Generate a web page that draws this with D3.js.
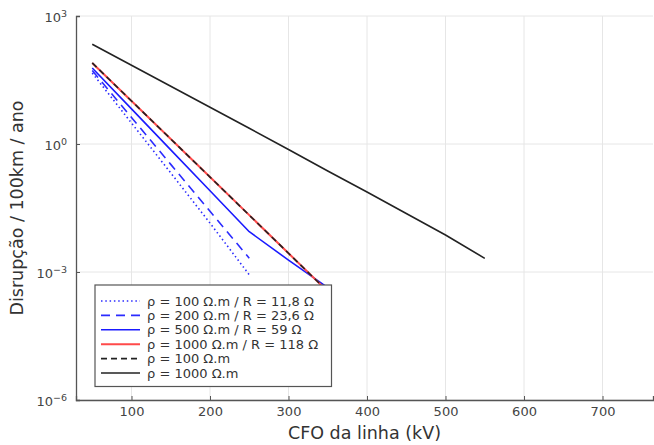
<!DOCTYPE html>
<html><head><meta charset="utf-8">
<script src="https://cdn.jsdelivr.net/npm/d3@7"></script>
<style>body{margin:0;background:#fff}svg{display:block;font-family:"DejaVu Sans",sans-serif}</style>
</head><body><svg id="c" width="654" height="445"></svg>
<script>
const cfo350 = [50,100,150,200,250,300,350];
const cfo250 = [50,100,150,200,250];
const cfo550 = [50,100,150,200,250,300,350,400,450,500,550];
const rho100R = [46, 3.1, 0.21, 0.0140, 8.6e-4];
const rho200R = [52.8, 4.19, 0.333, 0.0264, 0.0021];
const rho500R = [60.4, 6.64, 0.73, 0.080, 0.0088, 0.0019, 4.3e-4];
const rho1000R = [79.4, 10.2, 1.31, 0.168, 0.0215, 0.00275, 3.5e-4];
const rho100 = [79.4, 10.2, 1.31, 0.168, 0.0215, 0.00275, 3.5e-4];
const rho1000 = [217, 70, 22.5, 7.26, 2.34, 0.745, 0.233, 0.075, 0.0235, 0.00736, 0.00209];
const seriesNames = ["ρ = 100 Ω.m / R = 11,8 Ω","ρ = 200 Ω.m / R = 23,6 Ω","ρ = 500 Ω.m / R = 59 Ω","ρ = 1000 Ω.m / R = 118 Ω","ρ = 100 Ω.m","ρ = 1000 Ω.m"];
const xTicks = [100,200,300,400,500,600,700];
const yTickExp = [3,0,-3,-6];

const series = [
  {name:seriesNames[0], x:cfo250, y:rho100R, color:"#2b2bff", w:1.6, dash:"1.5,2.8"},
  {name:seriesNames[1], x:cfo250, y:rho200R, color:"#2b2bff", w:1.6, dash:"9,6"},
  {name:seriesNames[2], x:cfo350, y:rho500R, color:"#1a1aff", w:1.6, dash:null},
  {name:seriesNames[3], x:cfo350, y:rho1000R, color:"#ff4a4a", w:2, dash:null},
  {name:seriesNames[4], x:cfo350, y:rho100, color:"#222", w:1.6, dash:"6,4"},
  {name:seriesNames[5], x:cfo550, y:rho1000, color:"#222", w:1.6, dash:null}
];

const svg = d3.select("#c");
const L=76, R=653, T=16, B=400;
const x = d3.scaleLinear().domain([29.3, 764.3]).range([L,R]);
const y = d3.scaleLog().domain([1e-6,1e3]).range([B,T]);

// grid
const g = svg.append("g");
g.selectAll(".vg").data(xTicks).join("line")
  .attr("x1",d=>x(d)).attr("x2",d=>x(d)).attr("y1",T).attr("y2",B)
  .attr("stroke","#e6e6e6").attr("stroke-width",1);
g.selectAll(".hg").data(yTickExp).join("line")
  .attr("x1",L).attr("x2",R).attr("y1",d=>y(Math.pow(10,d))).attr("y2",d=>y(Math.pow(10,d)))
  .attr("stroke","#e6e6e6").attr("stroke-width",1);

// axes
const xa = svg.append("g").attr("transform",`translate(0,${B})`)
  .call(d3.axisBottom(x).tickValues(xTicks).tickSize(-4).tickPadding(7).tickFormat(d3.format("d")));
xa.select(".domain").attr("stroke","#555").attr("stroke-width",1.3);
xa.selectAll(".tick line").attr("stroke","#555");
xa.selectAll(".tick text").attr("fill","#444").attr("font-size",13).attr("font-family","DejaVu Sans");

const ya = svg.append("g").attr("transform",`translate(${L},0)`)
  .call(d3.axisLeft(y).tickValues(yTickExp.map(e=>Math.pow(10,e))).tickSize(-4).tickFormat(""));
ya.select(".domain").attr("stroke","#555").attr("stroke-width",1.3);
ya.selectAll(".tick line").attr("stroke","#555");
ya.selectAll(".tick").each(function(d){
  const e = Math.round(Math.log10(d));
  const t = d3.select(this).append("text").attr("x",-9).attr("dy","0.4em")
    .attr("text-anchor","end").attr("fill","#444").attr("font-size",13).attr("font-family","DejaVu Sans");
  t.append("tspan").text("10");
  t.append("tspan").attr("dy","-0.5em").attr("font-size",9.5).text(e<0?"−"+(-e):String(e));
});

// lines
const line = d3.line().x(d=>x(d[0])).y(d=>y(d[1]));
series.forEach(s=>{
  svg.append("path").datum(s.x.map((v,i)=>[v,s.y[i]]))
    .attr("d",line).attr("fill","none").attr("stroke",s.color).attr("stroke-width",s.w)
    .attr("stroke-dasharray",s.dash).attr("stroke-linejoin","round");
});

// labels
svg.append("text").attr("x",(L+R)/2).attr("y",439).attr("text-anchor","middle")
  .attr("font-size",17.5).attr("fill","#333").text("CFO da linha (kV)");
svg.append("text").attr("transform",`translate(23,${(T+B)/2}) rotate(-90)`).attr("text-anchor","middle")
  .attr("font-size",17.5).attr("fill","#333").text("Disrupção / 100km / ano");

// legend
const lg = svg.append("g");
lg.append("rect").attr("x",95).attr("y",285).attr("width",236.5).attr("height",101.5)
  .attr("fill","#fff").attr("stroke","#555").attr("stroke-width",1.2);
series.forEach((s,i)=>{
  const yy = 301 + i*14.4;
  lg.append("line").attr("x1",101).attr("x2",140).attr("y1",yy).attr("y2",yy)
    .attr("stroke",s.color).attr("stroke-width",s.w).attr("stroke-dasharray",s.dash);
  lg.append("text").attr("x",147).attr("y",yy).attr("dy","0.36em").attr("font-size",13)
    .attr("fill","#333").text(s.name);
});
</script></body></html>
